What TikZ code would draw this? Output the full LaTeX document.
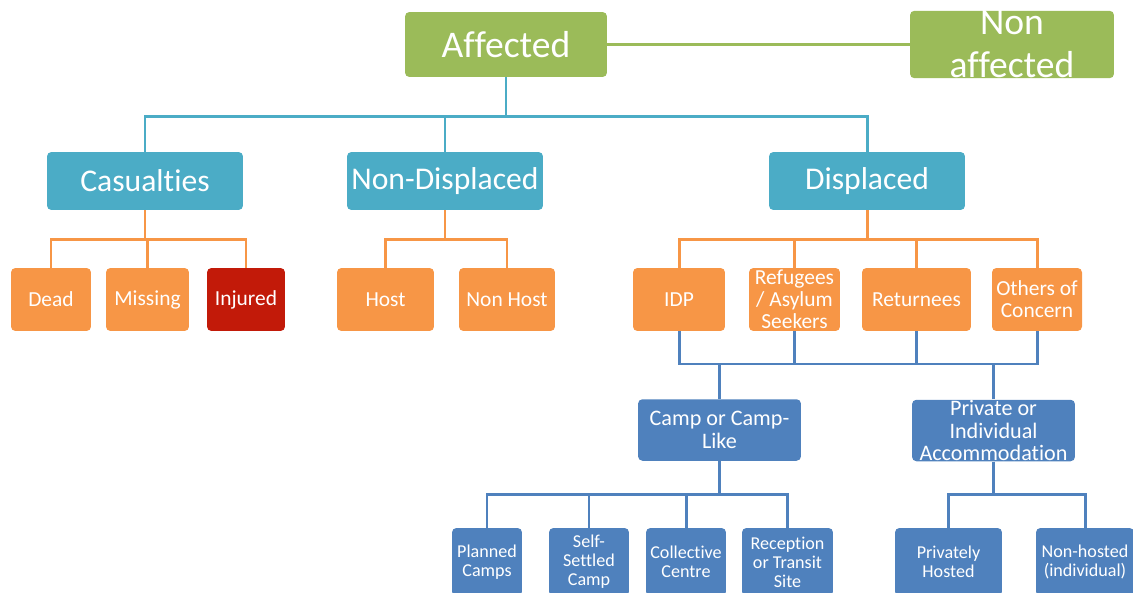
\documentclass[tikz,border=0pt]{standalone}
\usepackage{fontspec}
\setmainfont{Carlito}[Ligatures=NoCommon]
\usetikzlibrary{positioning}
\definecolor{affgreen}{HTML}{9BBB59}
\definecolor{teal}{HTML}{4BACC6}
\definecolor{orng}{HTML}{F79646}
\definecolor{injred}{HTML}{C21A09}
\definecolor{blu}{HTML}{4F81BD}

\begin{document}
\begin{tikzpicture}[x=0.02cm,y=-0.02cm,
	box/.style={rounded corners=2.5pt, text=white, align=center, inner sep=0pt},
	top/.style={box, fill=affgreen, font=\fontsize{21.4}{24.5}\selectfont},
	cat/.style={box, fill=teal, minimum width=3.92cm, minimum height=1.16cm, font=\fontsize{18}{20}\selectfont},
	sub/.style={box, fill=orng, minimum height=1.26cm, font=\fontsize{12.2}{12.6}\selectfont},
	acc/.style={box, fill=blu, minimum width=3.26cm, minimum height=1.23cm, font=\fontsize{12.6}{12.8}\selectfont},
	site/.style={box, fill=blu, minimum height=1.36cm, font=\fontsize{10.3}{10.8}\selectfont},
	gline/.style={affgreen, line width=1.7pt},
	tline/.style={teal, line width=1.7pt},
	oline/.style={orng, line width=1.7pt},
	bline/.style={blu, line width=1.7pt}]
		\useasboundingbox (0,0) rectangle (1133,592);
		\clip (0,0) rectangle (1133,592);
		\node[top, minimum width=4.04cm, minimum height=1.3cm] (Aff) at (506,44.5) {Affected};
		\node[top, minimum width=4.08cm, minimum height=1.34cm] (NonAff) at (1012,44.5) {Non\\affected};
		\node[cat] (Cas) at (145,181) {Casualties};
		\node[cat] (NonDis) at (445,181) {Non-Displaced};
		\node[cat] (Dis) at (867,181) {Displaced};
		\node[sub, minimum width=1.6cm] (Dead) at (51,299.5) {Dead};
		\node[sub, minimum width=1.66cm] (Miss) at (147.5,299.5) {Missing};
		\node[sub, fill=injred, minimum width=1.56cm] (Inj) at (246,299.5) {Injured};
		\node[sub, minimum width=1.94cm] (Host) at (385.5,299.5) {Host};
		\node[sub, minimum width=1.92cm] (NonHost) at (507,299.5) {Non Host};
		\node[sub, minimum width=1.84cm] (IDP) at (679,299.5) {IDP};
		\node[sub, minimum width=1.82cm] (Ref) at (794.5,299.5) {Refugees\\/ Asylum\\Seekers};
		\node[sub, minimum width=2.18cm] (Ret) at (916.5,299.5) {Returnees};
		\node[sub, minimum width=1.8cm] (Oth) at (1037,299.5) {Others of\\Concern};
		\node[acc] (Camp) at (719.5,430) {Camp or Camp-\\Like};
		\node[acc] (Priv) at (993.5,430.5) {Private or\\Individual\\Accommodation};
		\node[site, minimum width=1.4cm] (Plan) at (487,562) {Planned\\Camps};
		\node[site, minimum width=1.6cm] (Self) at (589,562) {Self-\\Settled\\Camp};
		\node[site, minimum width=1.6cm] (Coll) at (686,562) {Collective\\Centre};
		\node[site, minimum width=1.82cm] (Rec) at (787.5,562) {Reception\\or Transit\\Site};
		\node[site, minimum width=2.14cm] (PrivH) at (948.5,562) {Privately\\Hosted};
		\node[site, minimum width=1.96cm] (NonH) at (1085,562) {Non-hosted\\(individual)};
		\coordinate (bus) at (0,364);
		% top level
		\draw[gline] (Aff) -- (NonAff);
		\draw[tline] (Aff.south) -- ++(0,39) -| (Cas.north);
		\draw[tline] (Aff.south) -- ++(0,39) -| (NonDis.north);
		\draw[tline] (Aff.south) -- ++(0,39) -| (Dis.north);
		% casualties and non-displaced
		\draw[oline] (Cas.south) -- ++(0,29) -| (Dead.north);
		\draw[oline] (Cas.south) -- ++(0,29) -| (Miss.north);
		\draw[oline] (Cas.south) -- ++(0,29) -| (Inj.north);
		\draw[oline] (NonDis.south) -- ++(0,29) -| (Host.north);
		\draw[oline] (NonDis.south) -- ++(0,29) -| (NonHost.north);
		% displaced
		\draw[oline] (Dis.south) -- ++(0,29) -| (IDP.north);
		\draw[oline] (Dis.south) -- ++(0,29) -| (Ref.north);
		\draw[oline] (Dis.south) -- ++(0,29) -| (Ret.north);
		\draw[oline] (Dis.south) -- ++(0,29) -| (Oth.north);
		\draw[bline] (IDP.south) -- (IDP.south |- bus) -- (Oth.south |- bus) -- (Oth.south);
		\draw[bline] (Ref.south) -- (Ref.south |- bus) (Ret.south) -- (Ret.south |- bus);
		\draw[bline] (Camp.north) -- (Camp.north |- bus) (Priv.north) -- (Priv.north |- bus);
		% accommodation
		\draw[bline] (Camp.south) -- ++(0,33) -| (Plan.north);
		\draw[bline] (Camp.south) -- ++(0,33) -| (Self.north);
		\draw[bline] (Camp.south) -- ++(0,33) -| (Coll.north);
		\draw[bline] (Camp.south) -- ++(0,33) -| (Rec.north);
		\draw[bline] (Priv.south) -- ++(0,33) -| (PrivH.north);
		\draw[bline] (Priv.south) -- ++(0,33) -| (NonH.north);
\end{tikzpicture}
\end{document}
